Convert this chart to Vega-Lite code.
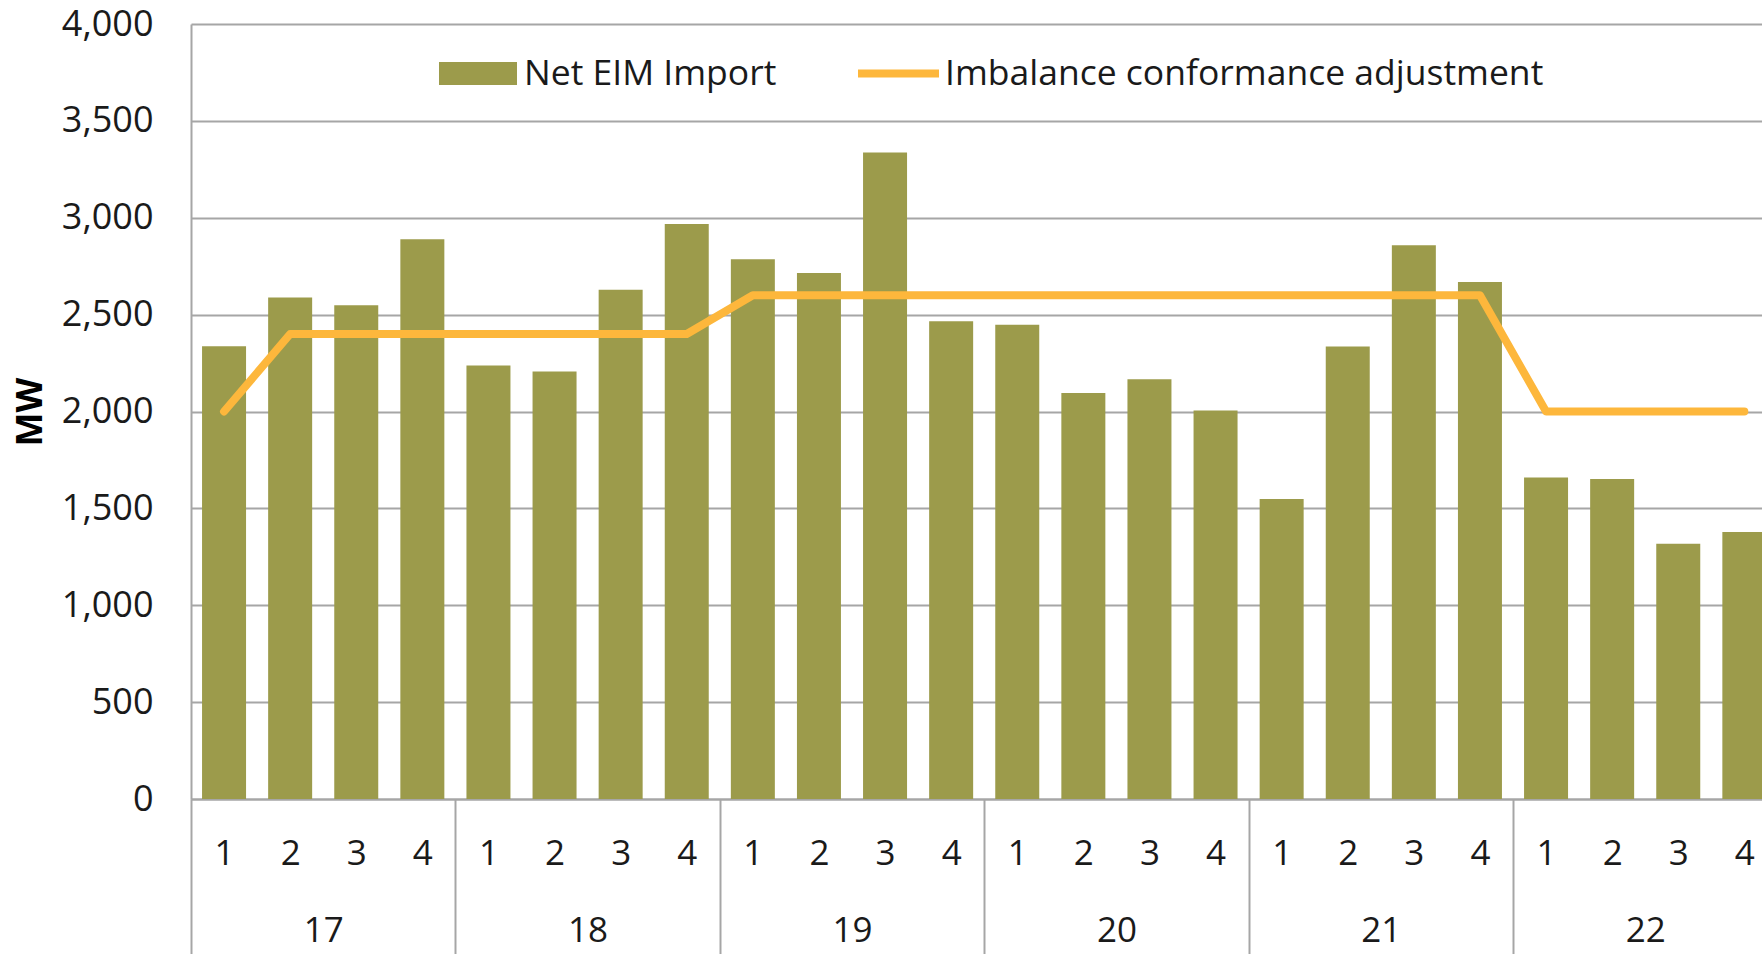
{
  "$schema": "https://vega.github.io/schema/vega-lite/v6.json",
  "width": 1571,
  "height": 775,
  "autosize": "none",
  "padding": {"left": 191, "top": 24, "right": 0, "bottom": 155},
  "background": "white",
  "config": {
    "view": {"stroke": null},
    "font": "Open Sans",
    "axis": {"labelFont": "Open Sans", "titleFont": "Open Sans", "labelColor": "#1a1a1a", "titleColor": "#000000"},
    "legend": {"labelFont": "Open Sans"}
  },
  "data": {
    "values": [
      {"t": 1, "year": 17, "quarter": 1, "import": 2337, "ica": 2000},
      {"t": 2, "year": 17, "quarter": 2, "import": 2588, "ica": 2400},
      {"t": 3, "year": 17, "quarter": 3, "import": 2549, "ica": 2400},
      {"t": 4, "year": 17, "quarter": 4, "import": 2889, "ica": 2400},
      {"t": 5, "year": 18, "quarter": 1, "import": 2238, "ica": 2400},
      {"t": 6, "year": 18, "quarter": 2, "import": 2207, "ica": 2400},
      {"t": 7, "year": 18, "quarter": 3, "import": 2628, "ica": 2400},
      {"t": 8, "year": 18, "quarter": 4, "import": 2968, "ica": 2400},
      {"t": 9, "year": 19, "quarter": 1, "import": 2786, "ica": 2600},
      {"t": 10, "year": 19, "quarter": 2, "import": 2715, "ica": 2600},
      {"t": 11, "year": 19, "quarter": 3, "import": 3337, "ica": 2600},
      {"t": 12, "year": 19, "quarter": 4, "import": 2466, "ica": 2600},
      {"t": 13, "year": 20, "quarter": 1, "import": 2448, "ica": 2600},
      {"t": 14, "year": 20, "quarter": 2, "import": 2096, "ica": 2600},
      {"t": 15, "year": 20, "quarter": 3, "import": 2166, "ica": 2600},
      {"t": 16, "year": 20, "quarter": 4, "import": 2005, "ica": 2600},
      {"t": 17, "year": 21, "quarter": 1, "import": 1548, "ica": 2600},
      {"t": 18, "year": 21, "quarter": 2, "import": 2336, "ica": 2600},
      {"t": 19, "year": 21, "quarter": 3, "import": 2858, "ica": 2600},
      {"t": 20, "year": 21, "quarter": 4, "import": 2668, "ica": 2600},
      {"t": 21, "year": 22, "quarter": 1, "import": 1659, "ica": 2000},
      {"t": 22, "year": 22, "quarter": 2, "import": 1651, "ica": 2000},
      {"t": 23, "year": 22, "quarter": 3, "import": 1318, "ica": 2000},
      {"t": 24, "year": 22, "quarter": 4, "import": 1378, "ica": 2000}
    ]
  },
  "layer": [
    {
      "mark": {"type": "bar", "width": 44, "clip": true},
      "encoding": {
        "x": {
          "field": "t", "type": "quantitative",
          "scale": {"domain": [0.5, 24.267], "nice": false, "zero": false, "padding": 0},
          "axis": {
            "orient": "bottom",
            "title": null,
            "values": [1,2,3,4,5,6,7,8,9,10,11,12,13,14,15,16,17,18,19,20,21,22,23,24],
            "labelExpr": "((datum.value - 1) % 4) + 1",
            "ticks": false, "grid": false,
            "domain": true, "domainColor": "#A6A6A6", "domainWidth": 2,
            "labelFontSize": 35, "labelPadding": 54, "labelBaseline": "middle",
            "labelFlush": false, "labelOverlap": false
          }
        },
        "y": {
          "field": "import", "type": "quantitative", "title": "MW",
          "scale": {"domain": [0, 4000], "nice": false},
          "axis": {
            "title": "MW",
            "values": [0, 500, 1000, 1500, 2000, 2500, 3000, 3500, 4000],
            "format": ",d",
            "ticks": false,
            "domain": true, "domainColor": "#A6A6A6", "domainWidth": 2,
            "grid": true, "gridColor": "#A6A6A6", "gridWidth": 2,
            "labelFontSize": 36, "labelPadding": 38, "labelFlush": false,
            "titleFontSize": 36, "titleFontWeight": "bold", "titlePadding": 12
          }
        },
        "fill": {
          "datum": "Net EIM Import", "type": "nominal",
          "scale": {"range": ["#9C9B4B"]},
          "legend": {
            "orient": "none", "legendX": 248, "legendY": 10.5,
            "title": null, "padding": 0,
            "symbolType": "M-1,-0.295H1V0.295H-1Z", "symbolSize": 6084,
            "symbolStrokeWidth": 0,
            "labelFontSize": 35.5, "labelOffset": 7, "labelColor": "#1a1a1a", "labelLimit": 1000
          }
        }
      }
    },
    {
      "mark": {"type": "line", "strokeWidth": 8, "strokeCap": "round", "strokeJoin": "round"},
      "encoding": {
        "x": {
          "field": "t", "type": "quantitative",
          "scale": {"domain": [0.5, 24.267], "nice": false, "zero": false, "padding": 0},
          "axis": {
            "orient": "bottom",
            "title": null,
            "values": [0.5, 4.5, 8.5, 12.5, 16.5, 20.5],
            "labelExpr": "'' + (17 + (datum.value - 0.5) / 4)",
            "ticks": true, "tickSize": 160, "tickColor": "#A6A6A6", "tickWidth": 2,
            "domain": false, "grid": false,
            "labelFontSize": 35, "labelOffset": 132.2, "labelPadding": -29,
            "labelBaseline": "middle", "labelFlush": false, "labelOverlap": false
          }
        },
        "y": {"field": "ica", "type": "quantitative", "title": "MW"},
        "stroke": {
          "datum": "Imbalance conformance adjustment", "type": "nominal",
          "scale": {"range": ["#FDB73C"]},
          "legend": {
            "orient": "none", "legendX": 663, "legendY": 5,
            "title": null, "padding": 0,
            "symbolType": "M-1,0H1", "symbolSize": 6561,
            "symbolStrokeWidth": 8,
            "labelFontSize": 35.5, "labelOffset": 2, "labelColor": "#1a1a1a", "labelLimit": 1000
          }
        }
      }
    }
  ],
  "resolve": {"axis": {"x": "independent"}}
}
